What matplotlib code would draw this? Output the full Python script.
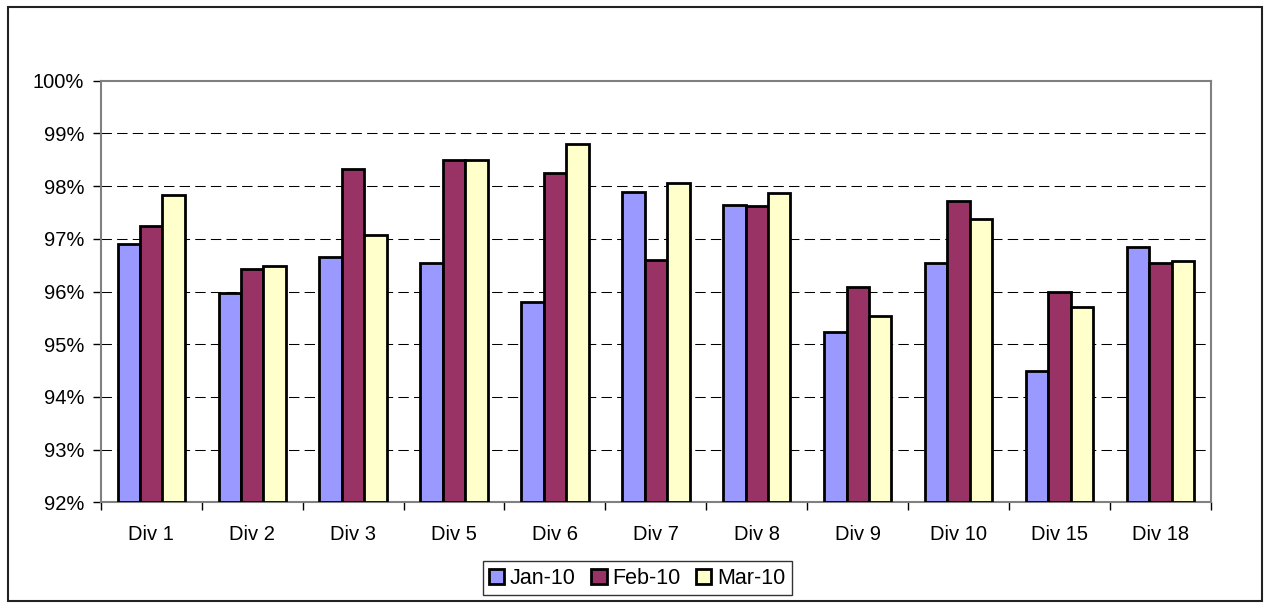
import matplotlib
matplotlib.use("Agg")
import matplotlib.pyplot as plt
import numpy as np
from matplotlib.patches import Rectangle
from matplotlib.ticker import FuncFormatter

categories = ["Div 1", "Div 2", "Div 3", "Div 5", "Div 6", "Div 7", "Div 8", "Div 9", "Div 10", "Div 15", "Div 18"]
jan_10 = [96.91, 95.97, 96.66, 96.54, 95.81, 97.89, 97.65, 95.23, 96.54, 94.49, 96.85]
feb_10 = [97.25, 96.42, 98.32, 98.50, 98.24, 96.60, 97.63, 96.09, 97.71, 95.99, 96.54]
mar_10 = [97.84, 96.48, 97.07, 98.49, 98.80, 98.06, 97.86, 95.53, 97.38, 95.71, 96.58]
series_names = ["Jan-10", "Feb-10", "Mar-10"]
y_ticks = [92, 93, 94, 95, 96, 97, 98, 99, 100]

colors = ["#9999FF", "#993366", "#FFFFCC"]

plt.rcParams['font.family'] = ['Liberation Sans', 'DejaVu Sans']

fig = plt.figure(figsize=(12.69, 6.08), dpi=100)
ax = fig.add_axes([0.0794, 0.1738, 0.9543 - 0.0794, 0.8673 - 0.1738])

x = np.arange(len(categories))
w = 0.6667 / 3
base = 92
for i, (vals, c, name) in enumerate(zip([jan_10, feb_10, mar_10], colors, series_names)):
    vals = np.array(vals)
    ax.bar(x + (i - 1) * w, vals - base, bottom=base, width=w, color=c,
           edgecolor="black", linewidth=2.0, label=name, zorder=3)

ax.set_xlim(-0.5, len(categories) - 0.5)
ax.set_ylim(92, 100)
ax.set_yticks(y_ticks)
ax.yaxis.set_major_formatter(FuncFormatter(lambda v, p: f"{v:.0f}%"))

ax.set_xticks(np.arange(-0.5, len(categories), 1.0))
ax.set_xticklabels([])
ax.set_xticks(x, minor=True)
ax.set_xticklabels(categories, minor=True)
ax.tick_params(axis="x", which="major", length=6, width=1, color="black", direction="out")
ax.tick_params(axis="x", which="minor", length=0, pad=16, labelsize=14.5)
ax.tick_params(axis="y", length=6, width=1, color="black", direction="out", labelsize=14.5, pad=6)

for v in y_ticks[1:-1]:
    ax.axhline(v, color="black", linewidth=0.75, linestyle=(0, (10, 5)), zorder=1)

for s in ax.spines.values():
    s.set_color("#808080")
    s.set_linewidth(1.5)

leg = fig.legend(loc="center", bbox_to_anchor=(0.502, 0.049), ncol=3, fontsize=15.5,
                 frameon=True, fancybox=False, edgecolor="black", handlelength=0.7,
                 handleheight=0.7, handletextpad=0.25, columnspacing=0.75,
                 borderpad=0.3, borderaxespad=0)
leg.get_frame().set_linewidth(1.0)

fig.patches.append(Rectangle((0.0063, 0.012), 0.988, 0.976, transform=fig.transFigure,
                             fill=False, edgecolor="#222222", linewidth=1.5))

fig.savefig("out.png", dpi=100)
